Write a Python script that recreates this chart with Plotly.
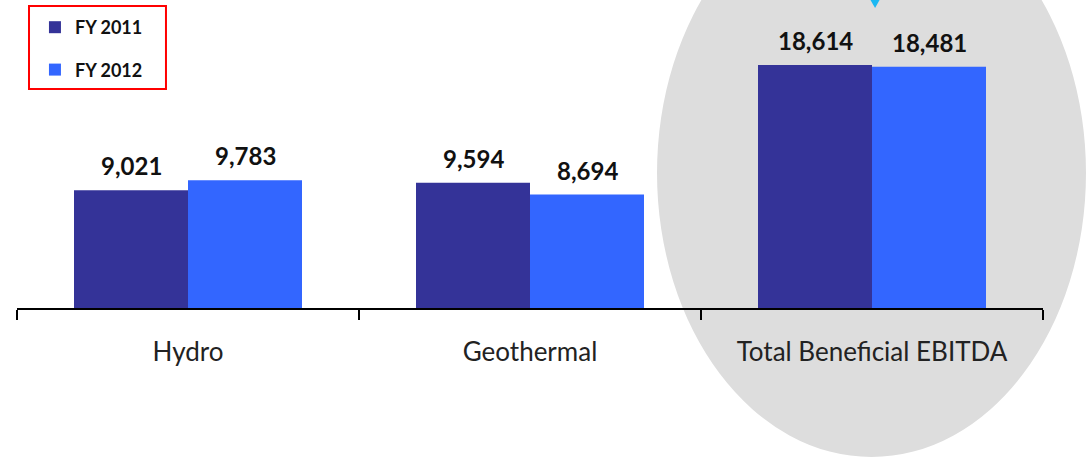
import plotly.graph_objects as go

categories = ["Hydro", "Geothermal", "Total Beneficial EBITDA"]
fy2011 = [9021, 9594, 18614]
fy2012 = [9783, 8694, 18481]
series_names = ["FY 2011", "FY 2012"]
colors = ["#343398", "#3366FF"]

fig = go.Figure()
offsets = [-57, 57]
for i, (name, vals) in enumerate(zip(series_names, [fy2011, fy2012])):
    fig.add_trace(go.Bar(
        x=categories, y=vals, name=name,
        marker=dict(color=colors[i], line=dict(width=0)),
        legendgroup=name,
    ))
    for c, v in zip(categories, vals):
        fig.add_annotation(x=c, y=v, text=f"{v:,}", showarrow=False,
                           xshift=offsets[i], yshift=8, yanchor="bottom",
                           font=dict(family="Lato", size=24, color="#111111", weight="bold"))

fig.add_shape(type="circle", xref="paper", yref="paper",
              x0=0.6238, x1=1.0419, y0=-0.4838, y1=1.3604,
              fillcolor="#DDDDDD", line=dict(width=0), layer="below")
fig.add_shape(type="path", xref="paper", yref="paper",
              path="M 0.8285 1.02 L 0.8441 1.02 L 0.8363 0.974 Z",
              fillcolor="#1BB8F2", line=dict(width=0))
# legend frame
fig.add_shape(type="rect", xref="paper", yref="paper",
              x0=0.0117, x1=0.1452, y0=0.711, y1=0.9805,
              line=dict(color="#FF0000", width=2), fillcolor="rgba(0,0,0,0)")

fig.update_layout(
    width=1086, height=458,
    margin=dict(l=17, r=43, t=0, b=150),
    paper_bgcolor="white", plot_bgcolor="rgba(0,0,0,0)",
    barmode="group", bargap=1/3, bargroupgap=0,
    showlegend=True,
    legend=dict(x=0.0175, y=0.9708, xanchor="left", yanchor="top",
                borderwidth=0, bgcolor="rgba(255,255,255,0)",
                font=dict(family="Lato", size=18, color="#111111", weight="bold"),
                tracegroupgap=16, itemwidth=30),
    font=dict(family="Lato"),
)
fig.update_xaxes(showline=True, linecolor="black", linewidth=1.5,
                 ticks="outside", tickson="boundaries", ticklen=10,
                 tickcolor="black", tickwidth=1.5,
                 tickfont=dict(family="Lato", size=26, color="#222222"),
                 ticklabelstandoff=20, showgrid=False)
fig.update_yaxes(range=[0, 23600], visible=False, showgrid=False)

fig.write_html("out.html", config={"displayModeBar": False},
               post_script="document.body.style.margin='0';window.dispatchEvent(new Event('resize'));")
